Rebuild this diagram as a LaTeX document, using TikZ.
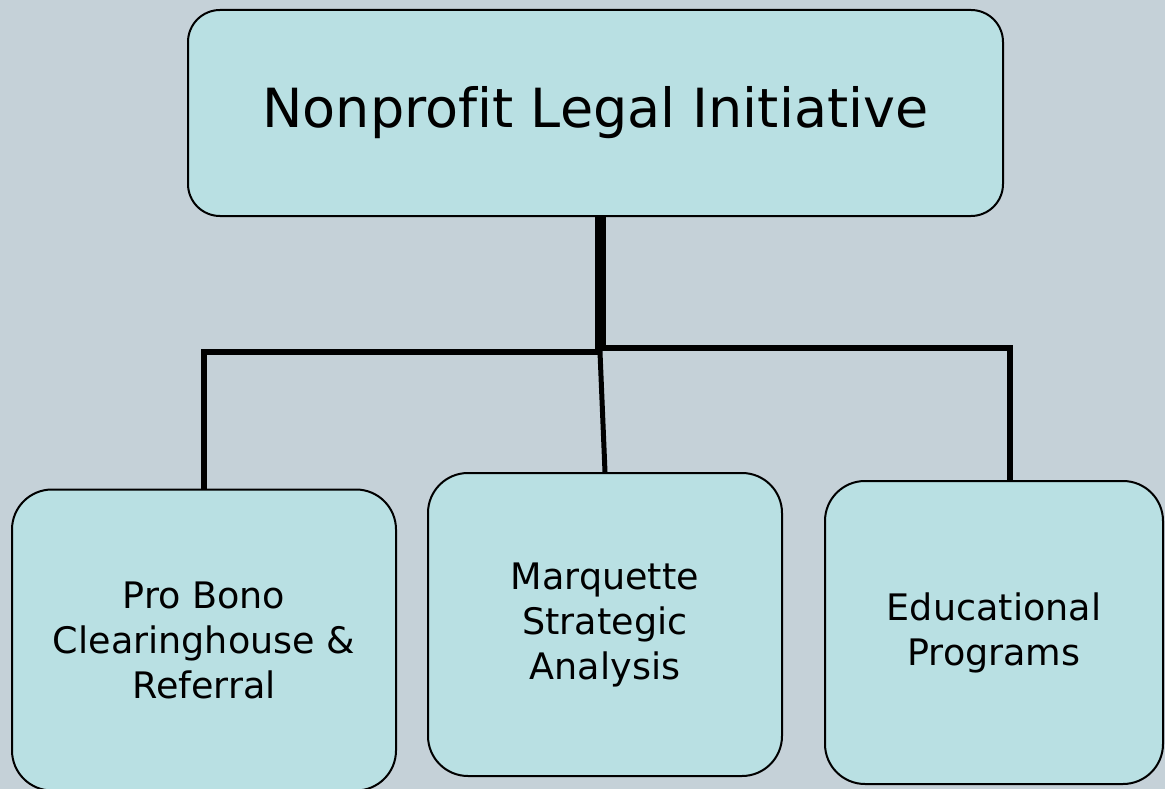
\documentclass[tikz,border=0pt]{standalone}
\usepackage{fontspec}
\setmainfont{DejaVu Sans}[Ligatures=NoCommon]
\usepackage{xcolor}
\definecolor{bgblue}{HTML}{C5D1D8}
\definecolor{boxcyan}{HTML}{B9E0E3}
\tikzset{
  orgbox/.style={draw=black, line width=2pt, fill=boxcyan, rounded corners=40pt,
    align=center, inner sep=0pt, font=\fontsize{36.5}{45}\selectfont},
  link/.style={line width=6pt, line cap=butt}
}
\begin{document}
\begin{tikzpicture}[x=1pt,y=-1pt]
\fill[bgblue] (0,0) rectangle (1165,789);
\useasboundingbox (0,0) rectangle (1165,789);
\clip (0,0) rectangle (1165,789);
\node[orgbox, rounded corners=32pt, minimum width=815pt, minimum height=206pt,
  font=\fontsize{54}{60}\selectfont] (top) at (595.5,113) {Nonprofit Legal Initiative};
\node[orgbox, minimum width=384pt, minimum height=301pt] (probono) at (204,640) {Pro Bono\\Clearinghouse \&\\Referral};
\node[orgbox, minimum width=354pt, minimum height=303pt] (marq) at (605,624.5) {Marquette\\Strategic\\Analysis};
\node[orgbox, minimum width=338pt, minimum height=303pt] (edu) at (994,632.5) {Educational\\Programs};
% connectors
\coordinate (jl) at (598,352);
\coordinate (jr) at (603,348);
\coordinate (jm) at (600,352);
\coordinate (er) at (1010,481);
\draw[link] ([xshift=2.5pt]top.south) -- (jl) -| (probono.north);
\draw[link] ([xshift=7.5pt]top.south) -- (jr) -| (er);
\draw[line width=5pt] ([xshift=5pt]top.south) -- (jm) -- (marq.north);
\end{tikzpicture}
\end{document}
